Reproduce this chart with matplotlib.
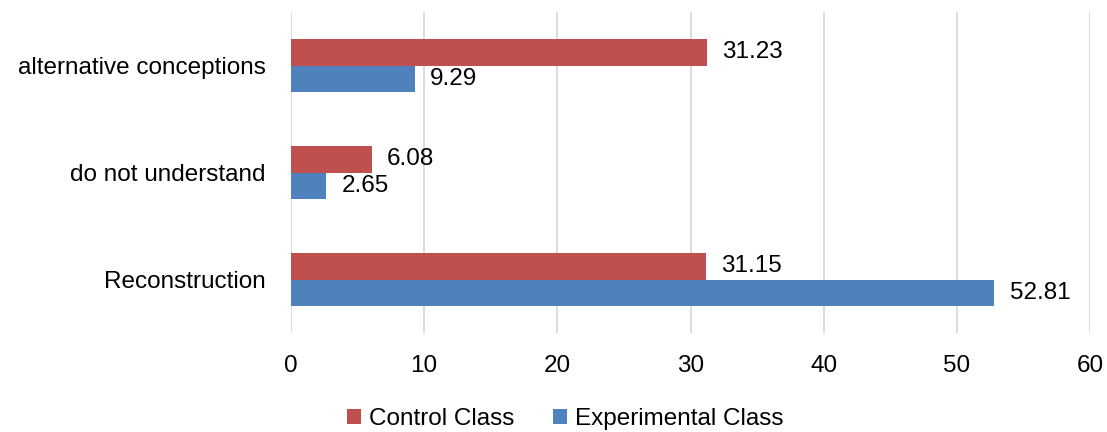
import matplotlib
matplotlib.use("Agg")
import matplotlib.pyplot as plt
import numpy as np

plt.rcParams['font.family'] = ['Liberation Sans', 'DejaVu Sans']

categories = ["Reconstruction", "do not understand", "alternative conceptions"]
control = [31.15, 6.08, 31.23]
experimental = [52.81, 2.65, 9.29]
series_names = ["Control Class", "Experimental Class"]
xticks = [0, 10, 20, 30, 40, 50, 60]

red = "#C0504D"
blue = "#4F81BD"
fs = 17.5

fig = plt.figure(figsize=(11.07, 4.32), dpi=100)
ax = fig.add_axes([291 / 1107, 1 - 333 / 432, 799 / 1107, 321 / 432])

y = np.arange(len(categories))
h = 0.25
b1 = ax.barh(y + h / 2, control, height=h, color=red, label=series_names[0])
b2 = ax.barh(y - h / 2, experimental, height=h, color=blue, label=series_names[1])

for bars in (b1, b2):
    for bar in bars:
        w = bar.get_width()
        ax.annotate(f"{w:.2f}", (w, bar.get_y() + bar.get_height() / 2),
                    xytext=(11, 0), textcoords="offset points",
                    va="center", ha="left", fontsize=fs, color="#000000")

ax.set_xlim(0, 60)
ax.set_ylim(-0.5, 2.5)
ax.set_xticks(xticks)
ax.set_yticks(y)
ax.set_yticklabels(categories)
ax.tick_params(axis="x", labelsize=fs, length=0, pad=16)
ax.tick_params(axis="y", labelsize=fs, length=0, pad=18)
ax.grid(axis="x", color="#d9d9d9", linewidth=1.3)
ax.set_axisbelow(True)
for s in ax.spines.values():
    s.set_visible(False)

fig.legend(handles=[b1, b2], labels=series_names, loc="upper center",
           bbox_to_anchor=(565 / 1107, 1 - 391 / 432), ncol=2, frameon=False,
           fontsize=fs, handlelength=0.6, handleheight=0.6,
           handletextpad=0.3, columnspacing=1.6, borderpad=0.2)

fig.savefig("out.png", dpi=100)
